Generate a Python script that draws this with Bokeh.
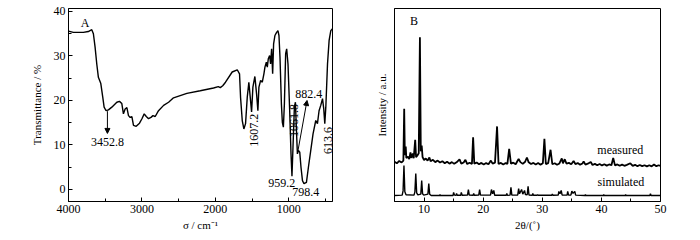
from bokeh.plotting import figure
from bokeh.layouts import row
from bokeh.models import Range1d, FixedTicker, Label, Arrow, NormalHead
from bokeh.embed import file_html
from bokeh.resources import INLINE

# ---------------- data: FT-IR (panel A) ----------------
ir_wavenumber = [4000, 3934, 3798, 3730, 3683, 3661, 3638, 3615, 3593, 3560, 3533, 3515, 3488, 3456,
                 3410, 3342, 3306, 3274, 3252, 3229, 3205, 3183, 3160, 3137, 3115, 3078, 3033, 3000,
                 2969, 2941, 2910, 2877, 2850, 2819, 2774, 2705, 2637, 2570, 2388, 2206, 2025, 1960,
                 1933, 1900, 1862, 1771, 1702, 1671, 1657, 1634, 1612, 1589, 1566, 1544, 1525, 1507,
                 1489, 1462, 1439, 1421, 1407, 1384, 1361, 1339, 1325, 1306, 1293, 1279, 1261, 1248,
                 1234, 1220, 1207, 1189, 1166, 1148, 1134, 1120, 1101, 1088, 1074, 1060, 1043, 1029,
                 1011, 988, 970, 957, 943, 924, 910, 896, 883, 869, 851, 834, 814, 793, 760, 733,
                 701, 670, 633, 610, 588, 565, 541, 524, 510, 496, 473, 451, 428, 405]
ir_transmittance = [35.6, 35.3, 35.3, 35.5, 35.9, 35.0, 32.0, 28.2, 25.2, 23.8, 20.7, 18.5, 17.7, 17.9,
                    18.5, 19.6, 19.8, 19.3, 17.0, 18.1, 18.4, 16.6, 16.2, 16.4, 14.4, 14.2, 14.9, 15.9,
                    17.0, 16.4, 15.9, 16.2, 16.6, 16.4, 17.7, 18.9, 19.6, 20.6, 21.6, 22.2, 22.8, 23.1,
                    22.9, 23.3, 24.1, 26.4, 26.9, 26.0, 20.7, 15.5, 13.6, 14.8, 20.7, 24.1, 20.7, 17.4,
                    23.0, 25.4, 21.5, 17.7, 23.0, 24.5, 24.1, 26.0, 27.5, 28.6, 27.5, 29.4, 30.1, 28.2,
                    31.6, 26.0, 32.7, 34.6, 35.3, 35.7, 34.6, 29.7, 19.3, 15.1, 14.0, 19.3, 30.5, 31.6,
                    28.2, 17.7, 8.0, 3.0, 9.5, 18.5, 19.6, 13.3, 8.0, 8.8, 8.4, 5.0, 2.0, 1.3, 1.6, 5.0,
                    8.8, 12.5, 15.5, 14.8, 17.7, 18.9, 20.4, 18.1, 14.8, 18.5, 28.2, 33.5, 35.7, 36.1]
ir_xticks = [4000, 3000, 2000, 1000]
ir_xminor = [3500, 2500, 1500, 500]
ir_yticks = [0, 10, 20, 30, 40]
ir_yminor = [5, 15, 25, 35]

# ---------------- data: PXRD (panel B) ----------------
meas_2theta = [5.0, 5.4, 5.8, 6.2, 6.5, 6.64, 6.75, 6.9, 7.0, 7.3, 7.5, 7.7, 7.85, 8.1, 8.25, 8.5, 8.65,
               8.9, 9.1, 9.3, 9.45, 9.6, 9.75, 10.0, 10.3, 10.6, 10.9, 11.1, 11.5, 11.9, 12.3, 12.7,
               13.1, 13.5, 13.9, 14.3, 14.7, 15.1, 15.5, 16.0, 16.3, 16.7, 17.0, 17.3, 17.7, 18.1,
               18.3, 18.5, 18.9, 19.3, 19.7, 20.1, 20.5, 20.9, 21.3, 21.6, 22.0, 22.35, 22.6, 23.0,
               23.4, 23.8, 24.1, 24.4, 24.7, 25.1, 25.5, 25.8, 26.0, 26.3, 26.7, 27.1, 27.4, 27.7,
               28.1, 28.5, 28.9, 29.3, 29.7, 30.1, 30.36, 30.6, 31.0, 31.4, 31.7, 32.1, 32.5, 32.9,
               33.3, 33.5, 33.8, 34.1, 34.5, 34.9, 35.3, 35.6, 36.0, 36.4, 36.8, 37.0, 37.3, 37.7,
               38.2, 38.5, 38.9, 39.3, 39.7, 40.1, 40.5, 40.9, 41.3, 41.7, 42.0, 42.3, 42.7, 43.1,
               43.5, 43.9, 44.3, 44.9, 45.3, 45.7, 46.1, 46.5, 46.9, 47.3, 47.7, 48.1, 48.5, 48.9,
               49.3, 49.7, 50.0]
meas_intensity = [20.6, 19.8, 21.0, 20.2, 21.2, 48.0, 24.0, 28.5, 22.5, 23.2, 22.0, 25.4, 22.6, 24.9,
                  22.4, 32.0, 23.0, 24.0, 25.0, 85.1, 26.0, 29.0, 23.0, 21.5, 22.3, 21.2, 22.8, 20.8,
                  21.6, 20.4, 21.2, 20.2, 20.9, 19.8, 20.6, 19.6, 20.4, 19.5, 20.3, 21.8, 19.6, 20.2,
                  21.6, 19.4, 20.1, 19.5, 33.3, 19.6, 20.2, 19.3, 20.0, 19.2, 19.9, 19.3, 21.2, 19.6,
                  20.1, 38.9, 19.4, 20.0, 19.2, 19.9, 19.5, 27.3, 19.6, 20.1, 19.3, 21.0, 22.0, 20.4,
                  19.5, 20.6, 22.8, 20.3, 19.4, 20.0, 19.2, 19.9, 19.1, 19.8, 32.5, 19.4, 19.9, 26.8,
                  19.3, 19.8, 19.0, 19.7, 22.3, 19.8, 21.9, 19.6, 20.0, 19.3, 21.0, 19.4, 19.9, 19.1,
                  19.7, 20.8, 19.1, 19.6, 20.5, 18.9, 19.5, 18.8, 19.4, 18.7, 19.3, 18.6, 19.2, 18.8,
                  22.6, 18.7, 19.2, 18.5, 19.1, 18.5, 19.0, 19.8, 18.5, 19.0, 18.3, 18.9, 18.3, 18.8,
                  18.2, 18.8, 18.2, 19.2, 18.3, 18.8, 18.4]
sim_2theta = [5.0, 6.3, 6.45, 6.6, 6.75, 6.95, 8.3, 8.45, 8.6, 8.75, 8.95, 9.45, 9.6, 9.75, 9.95,
              10.65, 10.8, 10.95, 11.2, 12.6, 12.7, 12.8, 14.9, 15.0, 15.15, 15.4, 15.5, 15.6, 16.2,
              16.3, 16.45, 17.35, 17.5, 17.65, 18.3, 18.4, 18.5, 19.25, 19.4, 19.55, 21.25, 21.4,
              21.6, 21.8, 21.95, 23.9, 24.0, 24.1, 24.55, 24.7, 24.85, 25.85, 26.0, 26.15, 26.5,
              26.7, 27.0, 27.15, 27.45, 27.6, 27.75, 28.3, 28.4, 28.5, 29.1, 29.2, 29.3, 31.6, 31.7,
              31.8, 32.7, 32.8, 33.0, 33.2, 33.35, 34.2, 34.3, 34.45, 34.85, 35.0, 35.2, 35.5, 35.65,
              37.2, 37.3, 37.4, 40.3, 40.4, 40.5, 44.0, 44.1, 44.2, 48.2, 48.3, 48.4, 50.0]
sim_intensity = [3.1, 3.3, 5.5, 18.7, 5.0, 3.5, 3.3, 5.0, 14.5, 4.5, 3.4, 3.8, 10.9, 4.0, 3.3,
                 3.8, 9.3, 3.8, 3.1, 3.1, 3.6, 3.1, 3.1, 4.7, 3.3, 3.2, 4.1, 3.2, 3.2,
                 4.7, 3.2, 3.3, 6.2, 3.3, 3.2, 4.1, 3.2, 3.3, 6.2, 3.3, 3.4, 6.2,
                 4.0, 5.7, 3.2, 3.2, 4.1, 3.2, 3.3, 7.3, 3.3, 3.4, 6.7, 4.0, 6.2,
                 3.8, 5.7, 3.6, 3.5, 7.8, 3.4, 3.2, 4.1, 3.2, 3.2, 3.6, 3.2, 3.2, 3.9,
                 3.2, 3.3, 5.2, 4.0, 5.7, 3.4, 3.3, 5.2, 3.3, 3.4, 5.4, 4.2, 5.2, 3.3,
                 3.1, 3.6, 3.1, 3.1, 3.6, 3.1, 3.1, 3.6, 3.1, 3.1, 4.1, 3.1, 3.1]
xrd_xticks = [10, 20, 30, 40, 50]
xrd_xminor = [15, 25, 35, 45]

FONT = "'Liberation Serif', 'Times New Roman', serif"


def style(p):
    p.background_fill_color = "white"
    p.border_fill_color = "white"
    p.outline_line_color = "black"
    p.outline_line_width = 1
    p.outline_line_alpha = 1
    p.grid.visible = False
    for ax in p.axis:
        ax.axis_line_color = "black"
        ax.axis_line_width = 1
        ax.major_tick_in = 4
        ax.major_tick_out = 0
        ax.minor_tick_in = 3
        ax.minor_tick_out = 0
        ax.major_tick_line_color = "black"
        ax.minor_tick_line_color = "black"
        ax.major_label_text_font = FONT
        ax.major_label_text_font_size = "12px"
        ax.major_label_text_color = "black"
        ax.major_label_standoff = 3
        ax.axis_label_text_font = FONT
        ax.axis_label_text_font_style = "normal"
        ax.axis_label_text_font_size = "11px"
        ax.axis_label_text_color = "black"


def txt(p, x, y, t, align="center", angle=0.0, style="normal", size="12px"):
    p.add_layout(Label(x=x, y=y, text=t, text_font=FONT, text_font_size=size,
                       text_font_style=style, text_align=align, text_baseline="middle",
                       angle=angle, text_color="black"))


# ---------------- panel A ----------------
p1 = figure(width=350, height=240, x_range=Range1d(4000, 405), y_range=Range1d(-2.7, 40.67),
            output_backend="svg", toolbar_location=None,
            min_border_left=68, min_border_right=18, min_border_top=8, min_border_bottom=39)
p1.line(ir_wavenumber, ir_transmittance, line_color="black", line_width=1.4)
style(p1)
p1.xaxis.ticker = FixedTicker(ticks=ir_xticks, minor_ticks=ir_xminor)
p1.yaxis.ticker = FixedTicker(ticks=ir_yticks, minor_ticks=ir_yminor)
p1.yaxis.axis_label = "Transmittance / %"
p1.yaxis.axis_label_standoff = 8
p1.xaxis.axis_label = "σ / cm⁻¹"
p1.xaxis.axis_label_standoff = 3

txt(p1, 3775, 37.4, "A")
txt(p1, 3470, 10.6, "3452.8")
p1.add_layout(Arrow(end=NormalHead(size=5, fill_color="black", line_color="black"),
                    x_start=3470, y_start=17.6, x_end=3470, y_end=12.6,
                    line_color="black", line_width=1))
txt(p1, 1477, 13.3, "1607.2", angle=1.5708)
txt(p1, 933, 15.5, "1061.8", angle=1.5708)
txt(p1, 729, 21.5, "882.4")
p1.add_layout(Arrow(end=NormalHead(size=5, fill_color="black", line_color="black"),
                    x_start=883, y_start=8.0, x_end=752, y_end=20.0,
                    line_color="black", line_width=1))
txt(p1, 1097, 1.4, "959.2")
txt(p1, 770, -0.6, "798.4")
txt(p1, 473, 11.0, "613.6", angle=1.5708)

# ---------------- panel B ----------------
p2 = figure(width=350, height=240, x_range=Range1d(5, 50), y_range=Range1d(0, 100),
            output_backend="svg", toolbar_location=None,
            min_border_left=44, min_border_right=40, min_border_top=8, min_border_bottom=39)
p2.line(meas_2theta, meas_intensity, line_color="black", line_width=1.8)
p2.line(sim_2theta, sim_intensity, line_color="black", line_width=1.4)
style(p2)
p2.xaxis.ticker = FixedTicker(ticks=xrd_xticks, minor_ticks=xrd_xminor)
p2.yaxis.ticker = FixedTicker(ticks=[])
p2.yaxis.axis_label = "Intensity / a.u."
p2.yaxis.axis_label_standoff = 7
p2.xaxis.axis_label = "2θ/(˚)"
p2.xaxis.axis_label_standoff = 3

txt(p2, 8.3, 93.4, "B")
txt(p2, 43.2, 26.8, "measured")
txt(p2, 43.3, 10.0, "simulated")

layout = row(p1, p2)
open("out.html", "w").write(file_html(layout, INLINE))
